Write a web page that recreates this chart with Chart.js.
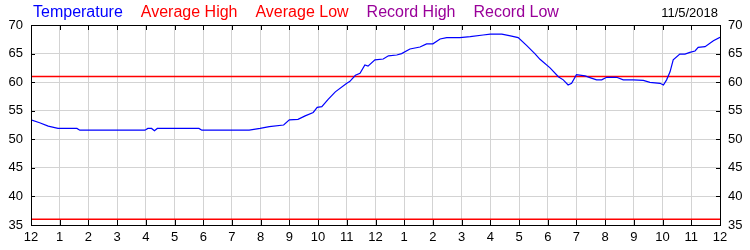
<!DOCTYPE html>
<html lang="pt-BR">
<head>
<meta charset="UTF-8">
<title>Temperatura 11/5/2018</title>
<script src="https://cdn.jsdelivr.net/npm/chart.js@4.4.1/dist/chart.umd.min.js"></script>
<style>
    body { margin: 0; background: #fff; }
    #grafico { display: block; }
</style>
</head>
<body>
<canvas id="grafico" width="750" height="250"></canvas>
<script>
// Horas do dia (0 = meia-noite) e temperaturas
const horas = [
    0, 0.3, 0.6, 0.94, 1.6, 1.7, 3.97, 4.07, 4.2, 4.3, 4.4, 5.85, 5.95, 7.6, 7.98,
    8.3, 8.8, 9.0, 9.3, 9.55, 9.83, 9.97, 10.13, 10.35, 10.6, 11.0, 11.1, 11.3, 11.46,
    11.63, 11.74, 11.98, 12.27, 12.45, 12.74, 12.91, 13.2, 13.55, 13.78, 14.0, 14.25,
    14.48, 14.94, 15.3, 15.75, 16.0, 16.4, 16.7, 16.97, 17.27, 17.55, 17.73, 18.08,
    18.37, 18.54, 18.71, 18.83, 19.0, 19.3, 19.47, 19.7, 19.88, 20.05, 20.4, 20.63,
    20.98, 21.33, 21.56, 21.91, 22.03, 22.14, 22.26, 22.37, 22.6, 22.78, 22.95, 23.13,
    23.24, 23.48, 23.77, 24
];
const temperaturas = [
    53.4, 52.9, 52.3, 51.9, 51.9, 51.6, 51.6, 51.9, 51.9, 51.5, 51.9, 51.9, 51.6, 51.6, 51.9,
    52.2, 52.5, 53.4, 53.5, 54.1, 54.7, 55.6, 55.7, 57.0, 58.3, 59.8, 60.1, 61.2, 61.55,
    63.0, 62.8, 63.9, 64.05, 64.6, 64.75, 65.0, 65.8, 66.15, 66.7, 66.7, 67.55,
    67.8, 67.8, 67.95, 68.25, 68.4, 68.4, 68.1, 67.8, 66.4, 65.0, 64.0, 62.5,
    60.95, 60.4, 59.5, 59.8, 61.3, 61.1, 60.8, 60.4, 60.4, 60.85, 60.85, 60.4,
    60.4, 60.3, 59.95, 59.8, 59.5, 60.4, 61.8, 63.9, 64.9, 64.9, 65.2, 65.45,
    66.1, 66.2, 67.25, 67.85
];
const mediaMaxima = 61;
const mediaMinima = 36;
const rotulosHoras = ['12', '1', '2', '3', '4', '5', '6', '7', '8', '9', '10', '11',
    '12', '1', '2', '3', '4', '5', '6', '7', '8', '9', '10', '11', '12'];
const dataGrafico = '11/5/2018';

const fonte = '"Liberation Sans", Arial, sans-serif';

// Legenda no topo (texto colorido, sem caixas)
const legendaTopo = {
    id: 'legendaTopo',
    afterDraw(chart) {
        const ctx = chart.ctx;
        ctx.save();
        ctx.font = '16px ' + fonte;
        ctx.textBaseline = 'alphabetic';
        let x = 33;
        chart.data.datasets.forEach(ds => {
            ctx.fillStyle = ds.borderColor;
            ctx.fillText(ds.label, x, 17);
            x += ctx.measureText(ds.label).width + 18;
        });
        ctx.font = '13px ' + fonte;
        ctx.textAlign = 'right';
        ctx.fillStyle = '#000';
        ctx.fillText(dataGrafico, 718, 17);
        ctx.restore();
    }
};

// Moldura preta e marcas de escala para dentro
const moldura = {
    id: 'moldura',
    afterDatasetsDraw(chart) {
        const { ctx, chartArea: a, scales } = chart;
        ctx.save();
        ctx.strokeStyle = '#000';
        ctx.lineWidth = 1;
        ctx.beginPath();
        scales.x.ticks.forEach(t => {
            const px = Math.round(scales.x.getPixelForValue(t.value)) + 0.5;
            ctx.moveTo(px, a.top);
            ctx.lineTo(px, a.top + 5);
            ctx.moveTo(px, a.bottom);
            ctx.lineTo(px, a.bottom - 5);
        });
        scales.y.ticks.forEach(t => {
            const py = Math.round(scales.y.getPixelForValue(t.value)) + 0.5;
            ctx.moveTo(a.left, py);
            ctx.lineTo(a.left + 4, py);
            ctx.moveTo(a.right, py);
            ctx.lineTo(a.right - 4, py);
        });
        ctx.stroke();
        ctx.strokeRect(Math.round(a.left) + 0.5, Math.round(a.top) + 0.5,
            Math.round(a.right - a.left), Math.round(a.bottom - a.top));
        ctx.restore();
    }
};

function linhaConstante(valor) {
    return [{ x: 0, y: valor }, { x: 24, y: valor }];
}

const ctx = document.getElementById('grafico').getContext('2d');
new Chart(ctx, {
    type: 'line',
    data: {
        datasets: [
            {
                label: 'Temperature',
                data: horas.map((h, i) => ({ x: h, y: temperaturas[i] })),
                borderColor: '#0000ff',
                borderWidth: 1.2,
                pointRadius: 0,
                tension: 0
            },
            {
                label: 'Average High',
                data: linhaConstante(mediaMaxima),
                borderColor: '#ff0000',
                borderWidth: 1.5,
                pointRadius: 0
            },
            {
                label: 'Average Low',
                data: linhaConstante(mediaMinima),
                borderColor: '#ff0000',
                borderWidth: 1.5,
                pointRadius: 0
            },
            {
                label: 'Record High',
                data: [],
                borderColor: '#990099',
                pointRadius: 0
            },
            {
                label: 'Record Low',
                data: [],
                borderColor: '#990099',
                pointRadius: 0
            }
        ]
    },
    options: {
        responsive: false,
        animation: false,
        layout: { padding: { top: 25, left: 0, right: 0, bottom: 0 } },
        plugins: {
            legend: { display: false },
            tooltip: { enabled: false }
        },
        scales: {
            x: {
                type: 'linear',
                min: 0,
                max: 24,
                afterFit(scale) { scale.height = 25; },
                grid: { color: '#d3d3d3', drawTicks: false },
                border: { display: false },
                ticks: {
                    stepSize: 1,
                    padding: 5,
                    color: '#000',
                    font: { family: fonte, size: 13 },
                    maxRotation: 0,
                    autoSkip: false,
                    callback: v => rotulosHoras[v]
                }
            },
            y: {
                position: 'left',
                min: 35,
                max: 70,
                afterFit(scale) { scale.width = 31; },
                grid: { color: '#d3d3d3', drawTicks: false },
                border: { display: false },
                ticks: {
                    stepSize: 5,
                    padding: 8,
                    color: '#000',
                    font: { family: fonte, size: 13 }
                }
            },
            y2: {
                position: 'right',
                min: 35,
                max: 70,
                afterFit(scale) { scale.width = 30; },
                grid: { drawOnChartArea: false, drawTicks: false },
                border: { display: false },
                ticks: {
                    stepSize: 5,
                    padding: 8,
                    color: '#000',
                    font: { family: fonte, size: 13 }
                }
            }
        }
    },
    plugins: [legendaTopo, moldura]
});
</script>
</body>
</html>
